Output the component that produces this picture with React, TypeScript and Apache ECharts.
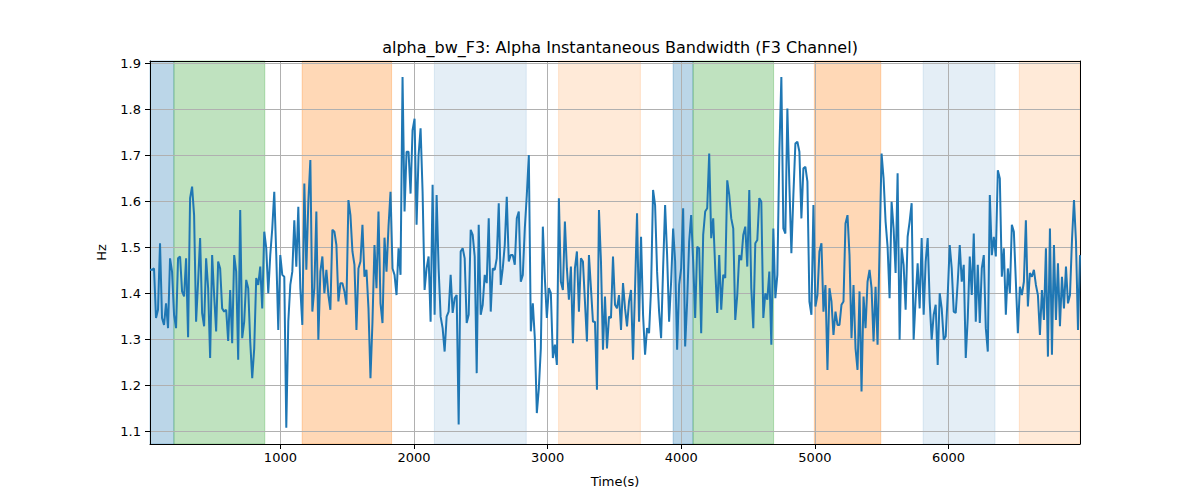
import * as echarts from "echarts";
import { useEffect, useRef } from "react";

// sampling grid of the recording (s)
const T0 = 24;
const STEP = 15;

// alpha bandwidth, Hz, read in chunks of ~900 s
const hzA = [
  1.451, 1.451, 1.454, 1.346, 1.364, 1.509, 1.346, 1.331, 1.378, 1.324, 1.476, 1.447, 1.353, 1.324, 1.476,
  1.48, 1.404, 1.393, 1.476, 1.304, 1.607, 1.632, 1.57, 1.338, 1.425, 1.52, 1.357, 1.328, 1.476, 1.411,
  1.259, 1.483, 1.396, 1.317, 1.469, 1.454, 1.367, 1.36, 1.364, 1.296, 1.407, 1.291, 1.483, 1.447, 1.255,
  1.581, 1.302, 1.338, 1.429, 1.411, 1.295, 1.215, 1.28, 1.433, 1.418, 1.458, 1.367, 1.534, 1.498, 1.4,
];
const hzB = [
  1.483, 1.541, 1.621, 1.483, 1.32, 1.483, 1.44, 1.436, 1.107, 1.338, 1.418, 1.447, 1.559, 1.458, 1.588,
  1.411, 1.331, 1.639, 1.451, 1.599, 1.69, 1.36, 1.411, 1.578, 1.299, 1.447, 1.48, 1.4, 1.451, 1.396,
  1.364, 1.538, 1.534, 1.505, 1.382, 1.422, 1.422, 1.404, 1.375, 1.603, 1.57, 1.491, 1.462, 1.32, 1.454,
  1.469, 1.549, 1.436, 1.451, 1.367, 1.215, 1.338, 1.505, 1.411, 1.578, 1.378, 1.335, 1.521, 1.447, 1.545,
];
const hzC = [
  1.621, 1.454, 1.44, 1.396, 1.498, 1.44, 1.871, 1.578, 1.708, 1.708, 1.617, 1.755, 1.78, 1.549, 1.701,
  1.759, 1.621, 1.407, 1.454, 1.48, 1.338, 1.636, 1.353, 1.614, 1.454, 1.349, 1.324, 1.273, 1.349, 1.36,
  1.44, 1.357, 1.389, 1.396, 1.114, 1.491, 1.498, 1.476, 1.335, 1.353, 1.538, 1.527, 1.48, 1.226, 1.549,
  1.353, 1.375, 1.44, 1.422, 1.563, 1.36, 1.454, 1.451, 1.476, 1.596, 1.418, 1.454, 1.505, 1.61, 1.469,
];
const hzD = [
  1.483, 1.483, 1.462, 1.563, 1.578, 1.425, 1.44, 1.541, 1.614, 1.701, 1.317, 1.378, 1.302, 1.139, 1.193,
  1.28, 1.545, 1.433, 1.346, 1.411, 1.4, 1.259, 1.288, 1.244, 1.607, 1.425, 1.407, 1.556, 1.454, 1.386,
  1.458, 1.291, 1.454, 1.491, 1.36, 1.476, 1.469, 1.382, 1.295, 1.483, 1.411, 1.338, 1.338, 1.19, 1.581,
  1.469, 1.277, 1.393, 1.28, 1.349, 1.346, 1.48, 1.375, 1.367, 1.396, 1.32, 1.422, 1.367, 1.328, 1.382,
];
const hzE = [
  1.407, 1.255, 1.411, 1.574, 1.338, 1.523, 1.353, 1.266, 1.324, 1.313, 1.411, 1.625, 1.592, 1.447, 1.36,
  1.302, 1.454, 1.592, 1.483, 1.338, 1.425, 1.541, 1.469, 1.277, 1.418, 1.454, 1.585, 1.284, 1.382, 1.512,
  1.57, 1.469, 1.346, 1.501, 1.498, 1.313, 1.527, 1.578, 1.585, 1.704, 1.52, 1.563, 1.454, 1.357, 1.483,
  1.364, 1.44, 1.433, 1.646, 1.614, 1.563, 1.541, 1.342, 1.396, 1.483, 1.472, 1.527, 1.545, 1.458, 1.625,
];
const hzF = [
  1.411, 1.324, 1.509, 1.516, 1.607, 1.599, 1.346, 1.4, 1.386, 1.447, 1.288, 1.541, 1.389, 1.44, 1.708,
  1.871, 1.541, 1.53, 1.802, 1.636, 1.487, 1.614, 1.726, 1.73, 1.708, 1.563, 1.672, 1.675, 1.643, 1.382,
  1.353, 1.592, 1.371, 1.396, 1.491, 1.509, 1.36, 1.418, 1.233, 1.411, 1.382, 1.309, 1.36, 1.331, 1.331,
  1.375, 1.382, 1.552, 1.57, 1.483, 1.302, 1.418, 1.28, 1.233, 1.404, 1.186, 1.393, 1.324, 1.425, 1.451,
];
const hzG = [
  1.411, 1.295, 1.414, 1.288, 1.498, 1.704, 1.65, 1.556, 1.501, 1.389, 1.599, 1.541, 1.444, 1.661, 1.299,
  1.498, 1.462, 1.364, 1.523, 1.556, 1.596, 1.299, 1.389, 1.465, 1.367, 1.52, 1.353, 1.469, 1.52, 1.382,
  1.299, 1.353, 1.375, 1.244, 1.4, 1.367, 1.299, 1.306, 1.396, 1.505, 1.454, 1.36, 1.357, 1.425, 1.505,
  1.425, 1.462, 1.259, 1.346, 1.48, 1.396, 1.53, 1.338,
];
const hzH = [
  1.462, 1.335, 1.454, 1.483, 1.324, 1.273, 1.614, 1.483, 1.523, 1.48, 1.668, 1.65, 1.436, 1.498, 1.353,
  1.454, 1.4, 1.549, 1.534, 1.425, 1.313, 1.414, 1.396, 1.425, 1.559, 1.371, 1.444, 1.436, 1.451, 1.418,
  1.396, 1.309, 1.407, 1.342, 1.498, 1.262, 1.541, 1.266, 1.505, 1.342, 1.465, 1.328, 1.436, 1.367, 1.458,
  1.378, 1.396, 1.516, 1.603, 1.512, 1.32, 1.483,
];

const hzValues = [...hzA, ...hzB, ...hzC, ...hzD, ...hzE, ...hzF, ...hzG, ...hzH];
const times = hzValues.map((_, i) => T0 + i * STEP);
const tMin = times[0];
const tMax = times[times.length - 1];

const xTicks = [1000, 2000, 3000, 4000, 5000, 6000];
const yTicks = [1.1, 1.2, 1.3, 1.4, 1.5, 1.6, 1.7, 1.8, 1.9];

// shaded segments: [start, end, kind]
const bandStart = [tMin, 203, 1163, 2152, 3082, 3939, 4088, 4996, 5810, 6530];
const bandEnd = [203, 883, 1832, 2840, 3694, 4088, 4691, 5493, 6348, tMax];
const bandKind = ["blue", "green", "orange", "paleBlue", "paleOrange", "blue", "green", "orange", "paleBlue", "paleOrange"];

const bandColors: Record<string, string> = {
  blue: "rgba(31,119,180,0.3)",
  green: "rgba(44,160,44,0.3)",
  orange: "rgba(255,127,14,0.3)",
  paleBlue: "rgba(31,119,180,0.12)",
  paleOrange: "rgba(255,127,14,0.16)",
};

const FONT = "DejaVu Sans";
const GRID_COLOR = "#b0b0b0";

export default function App() {
  const chartRef = useRef<HTMLDivElement>(null);

  useEffect(() => {
    const chart = echarts.init(chartRef.current, null, { renderer: "svg" });

    const areas = bandStart.map((s, i) => [
      {
        xAxis: s,
        itemStyle: {
          color: bandColors[bandKind[i]],
          borderColor: bandColors[bandKind[i]],
          borderWidth: 1,
        },
      },
      { xAxis: bandEnd[i] },
    ]);

    const option = {
      animation: false,
      textStyle: { fontFamily: FONT },
      title: {
        text: "alpha_bw_F3: Alpha Instantaneous Bandwidth (F3 Channel)",
        left: 615,
        textAlign: "center",
        top: 34,
        textStyle: { fontFamily: FONT, fontSize: 16, fontWeight: "normal", color: "#000" },
      },
      grid: { left: 150, right: 120, top: 61, bottom: 56 },
      xAxis: [
        {
          type: "value",
          min: tMin,
          max: tMax,
          z: 2,
          name: "Time(s)",
          nameLocation: "middle",
          nameGap: 31,
          nameTextStyle: { fontFamily: FONT, fontSize: 13, color: "#000" },
          axisLine: { show: true, onZero: false, lineStyle: { color: "#000", width: 1 } },
          axisTick: { show: true, length: 5, customValues: xTicks, lineStyle: { color: "#000" } },
          axisLabel: {
            customValues: xTicks,
            margin: 7,
            fontSize: 13,
            color: "#000",
            fontFamily: FONT,
            formatter: (v: number) => String(v),
          },
          splitLine: { show: true, lineStyle: { color: GRID_COLOR, width: 1 } },
        },
        {
          type: "value",
          position: "top",
          min: tMin,
          max: tMax,
          z: 2,
          axisLine: { show: true, onZero: false, lineStyle: { color: "#000", width: 1 } },
          axisTick: { show: false },
          axisLabel: { show: false },
          splitLine: { show: false },
        },
      ],
      yAxis: [
        {
          type: "value",
          min: 1.0717,
          max: 1.9057,
          z: 2,
          name: "Hz",
          nameLocation: "middle",
          nameGap: 42,
          nameTextStyle: { fontFamily: FONT, fontSize: 13, color: "#000" },
          axisLine: { show: true, onZero: false, lineStyle: { color: "#000", width: 1 } },
          axisTick: { show: true, length: 5, customValues: yTicks, lineStyle: { color: "#000" } },
          axisLabel: {
            customValues: yTicks,
            margin: 9,
            fontSize: 13,
            color: "#000",
            fontFamily: FONT,
            formatter: (v: number) => v.toFixed(1),
          },
          splitLine: { show: true, lineStyle: { color: GRID_COLOR, width: 1 } },
        },
        {
          type: "value",
          position: "right",
          min: 1.0717,
          max: 1.9057,
          z: 2,
          axisLine: { show: true, onZero: false, lineStyle: { color: "#000", width: 1 } },
          axisTick: { show: false },
          axisLabel: { show: false },
          splitLine: { show: false },
        },
      ],
      series: [
        {
          name: "bands",
          type: "line",
          data: [],
          z: 1,
          silent: true,
          markArea: { silent: true, z: 1, data: areas },
        },
        {
          name: "alpha_bw_F3",
          type: "line",
          z: 3,
          data: times.map((t, i) => [t, hzValues[i]]),
          showSymbol: false,
          silent: true,
          lineStyle: { color: "#1f77b4", width: 2 },
          itemStyle: { color: "#1f77b4" },
        },
      ],
    };

    chart.setOption(option);

    return () => {
      chart.dispose();
    };
  }, []);

  return (
    <div
      ref={chartRef}
      style={{ position: "fixed", left: 0, top: 0, width: 1200, height: 500, background: "#fff" }}
    ></div>
  );
}
